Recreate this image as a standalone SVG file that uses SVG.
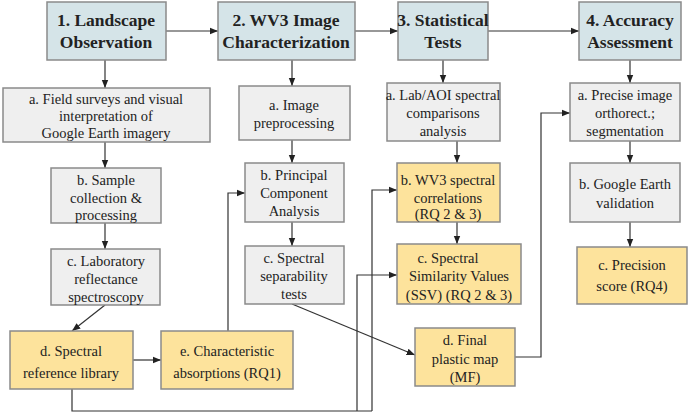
<svg xmlns="http://www.w3.org/2000/svg" width="698" height="413" viewBox="0 0 698 413">
<style>
rect{stroke:#8a8a8a;stroke-width:1.5}
.h{fill:#d5e4e8}.g{fill:#efefef}.y{fill:#fde39c}
text{font-family:"Liberation Serif",serif;font-size:14.5px;fill:#222;text-anchor:middle}
.ht{font-size:17.5px;font-weight:bold}
.c path{fill:none;stroke:#333;stroke-width:1.2;marker-end:url(#a)}
.c .n{marker-end:none}
</style>
<defs><marker id="a" viewBox="0 0 10 10" refX="10" refY="5" markerWidth="7" markerHeight="7" orient="auto"><path d="M0,1 L10,5 L0,9z" fill="#222" stroke="none"/></marker></defs>
<g class="c">
<path d="M166,31H218"/><path d="M355,31H398"/><path d="M488,31H579"/>
<path d="M105,60V88"/><path d="M105,142V168"/><path d="M105,223V249"/><path d="M105,305L72,331"/>
<path d="M133,360H161"/><path d="M228,331V193H245"/>
<path d="M292,60V86"/><path d="M292,140V163"/><path d="M292,222V246"/><path d="M292,304L415,355"/>
<path class="n" d="M72,389V411H372"/><path d="M357,411V275H397"/><path d="M372,411V190H397"/>
<path d="M443,60V83"/><path d="M457,141V163"/><path d="M457,222V244"/>
<path d="M515,357H541V113H570"/>
<path d="M630,60V83"/><path d="M630,141V163"/><path d="M630,222V247"/>
</g>
<g id="h1"><rect class="h" x="47" y="2" width="119" height="58"/><text class="ht" x="106" y="26">1. Landscape</text><text class="ht" x="106" y="48">Observation</text></g>
<g id="h2"><rect class="h" x="218" y="2" width="137" height="58"/><text class="ht" x="286" y="26">2. WV3 Image</text><text class="ht" x="286" y="48">Characterization</text></g>
<g id="h3"><rect class="h" x="398" y="2" width="90" height="58"/><text class="ht" x="443" y="26">3. Statistical</text><text class="ht" x="443" y="48">Tests</text></g>
<g id="h4"><rect class="h" x="579" y="2" width="102" height="58"/><text class="ht" x="630" y="26">4. Accuracy</text><text class="ht" x="630" y="48">Assessment</text></g>
<g id="n1a"><rect class="g" x="3" y="88" width="207" height="54"/><text x="106" y="104">a. Field surveys and visual</text><text x="106" y="121">interpretation of</text><text x="106" y="138">Google Earth imagery</text></g>
<g id="n1b"><rect class="g" x="51" y="168" width="110" height="55"/><text x="106" y="185">b. Sample</text><text x="106" y="203">collection &amp;</text><text x="106" y="220">processing</text></g>
<g id="n1c"><rect class="g" x="51" y="249" width="109" height="56"/><text x="106" y="266">c. Laboratory</text><text x="106" y="284">reflectance</text><text x="106" y="302">spectroscopy</text></g>
<g id="n1d"><rect class="y" x="10" y="331" width="123" height="58"/><text x="71" y="356">d. Spectral</text><text x="71" y="378">reference library</text></g>
<g id="n1e"><rect class="y" x="161" y="331" width="132" height="58"/><text x="227" y="356">e. Characteristic</text><text x="227" y="378">absorptions (RQ1)</text></g>
<g id="n2a"><rect class="g" x="239" y="86" width="111" height="54"/><text x="294" y="110">a. Image</text><text x="294" y="128">preprocessing</text></g>
<g id="n2b"><rect class="g" x="245" y="163" width="99" height="59"/><text x="294" y="180">b. Principal</text><text x="294" y="198">Component</text><text x="294" y="216">Analysis</text></g>
<g id="n2c"><rect class="g" x="245" y="246" width="99" height="58"/><text x="294" y="263">c. Spectral</text><text x="294" y="281">separability</text><text x="294" y="299">tests</text></g>
<g id="n3a"><rect class="g" x="387" y="83" width="113" height="58"/><text x="443" y="100">a. Lab/AOI spectral</text><text x="443" y="118">comparisons</text><text x="443" y="136">analysis</text></g>
<g id="n3b"><rect class="y" x="397" y="163" width="103" height="59"/><text x="448" y="185">b. WV3 spectral</text><text x="448" y="203">correlations</text><text x="448" y="219">(RQ 2 &amp; 3)</text></g>
<g id="n3c"><rect class="y" x="397" y="244" width="124" height="60"/><text x="448" y="263">c. Spectral</text><text x="459" y="281">Similarity Values</text><text x="459" y="300">(SSV) (RQ 2 &amp; 3)</text></g>
<g id="n3d"><rect class="y" x="415" y="328" width="100" height="58"/><text x="465" y="345">d. Final</text><text x="465" y="364">plastic map</text><text x="465" y="382">(MF)</text></g>
<g id="n4a"><rect class="g" x="570" y="83" width="110" height="58"/><text x="625" y="100">a. Precise image</text><text x="625" y="118">orthorect.;</text><text x="625" y="136">segmentation</text></g>
<g id="n4b"><rect class="g" x="570" y="163" width="110" height="59"/><text x="625" y="189">b. Google Earth</text><text x="625" y="208">validation</text></g>
<g id="n4c"><rect class="y" x="577" y="247" width="110" height="57"/><text x="632" y="270">c. Precision</text><text x="632" y="291">score (RQ4)</text></g>
</svg>
